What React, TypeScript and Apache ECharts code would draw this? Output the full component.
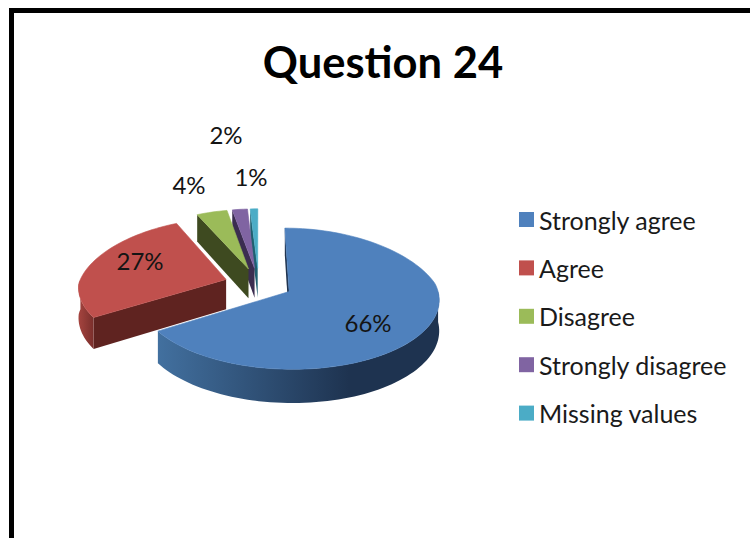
import React, { useEffect, useRef } from "react";
import * as echarts from "echarts";

const titleText = "Question 24";
const categories = ["Strongly agree", "Agree", "Disagree", "Strongly disagree", "Missing values"];
const values = [66, 27, 4, 2, 1];
const percentLabels = ["66%", "27%", "4%", "2%", "1%"];

const topColors = ["#4F81BD", "#C0504D", "#9BBB59", "#8064A2", "#4BACC6"];
const faceColors = ["#20344f", "#5f2320", "#3e4a20", "#3b2d50", "#1f5f70"];
const arcStops: string[][] = [
  ["#42709f", "#1e3350"],
  ["#a5443f", "#7a2f2c"],
  ["#3e4a20", "#3e4a20"],
  ["#3b2d50", "#3b2d50"],
  ["#1f5f70", "#1f5f70"],
];
const labelPoints = [
  [368, 322],
  [140, 260],
  [189, 184],
  [226, 134],
  [251, 176],
];

const FONT = "Lato";
const CX = 258.7;
const CY = 283.8;
const RX = 147.3;
const RY = 68.3;
const DEPTH = 30;
const EXPLODE = 0.233;
const PERSP = 0.1;
const PERSP_BACK_X = 0.17;
const RAD = Math.PI / 180;

const total = values.reduce((a, b) => a + b, 0);

function project(px: number, py: number, drop: number) {
  const w = 1 / (1 - PERSP * py);
  const wx = py < 0 ? 1 / (1 - PERSP_BACK_X * py) : w;
  return [CX + RX * px * wx, CY + RY * py * w + drop * w];
}

function sliceGeometry(index: number, value: number) {
  let before = 0;
  for (let i = 0; i < index; i++) before += values[i];
  const start = (before / total) * 360;
  const end = start + (value / total) * 360;
  const mid = ((start + end) / 2) * RAD;
  const ox = EXPLODE * Math.sin(mid);
  const oy = -EXPLODE * Math.cos(mid);
  const rim = (deg: number, drop: number) =>
    project(ox + Math.sin(deg * RAD), oy - Math.cos(deg * RAD), drop);
  const apex = (drop: number) => project(ox, oy, drop);
  return { start, end, rim, apex };
}

function arcPoints(rim: (d: number, z: number) => number[], from: number, to: number, drop: number) {
  const steps = Math.max(2, Math.ceil(Math.abs(to - from) / 2));
  const out: number[][] = [];
  for (let i = 0; i <= steps; i++) out.push(rim(from + ((to - from) * i) / steps, drop));
  return out;
}

function makeRenderItem(index: number) {
  return (_params: any, api: any) => {
    const { start, end, rim, apex } = sliceGeometry(index, api.value(0));
    const children: any[] = [];

    // flat cut face along the slice's start edge
    if (start < 360 && (start === 0 || start > 180)) {
      children.push({
        type: "polygon",
        shape: { points: [apex(0), rim(start, 0), rim(start, DEPTH), apex(DEPTH)] },
        style: { fill: faceColors[index] },
      });
    }
    // curved rim on the front half of the pie
    const a = Math.max(start, 90);
    const b = Math.min(end, 270);
    if (b > a) {
      const top = arcPoints(rim, a, b, 0);
      const bottom = arcPoints(rim, b, a, DEPTH);
      children.push({
        type: "polygon",
        shape: { points: [...top, ...bottom] },
        style: {
          fill: new echarts.graphic.LinearGradient(1, 0, 0, 0, [
            { offset: 0, color: arcStops[index][1] },
            { offset: index === 0 ? 0.32 : 0, color: arcStops[index][1] },
            { offset: 1, color: arcStops[index][0] },
          ]),
        },
      });
    }
    // top surface
    children.push({
      type: "polygon",
      shape: { points: [apex(0), ...arcPoints(rim, start, end, 0)] },
      style: { fill: topColors[index], stroke: topColors[index], lineWidth: 0.6 },
    });
    return { type: "group", children };
  };
}

export default function App() {
  const ref = useRef<HTMLDivElement>(null);
  useEffect(() => {
    if (!ref.current) return;
    const chart = echarts.init(ref.current, undefined, { renderer: "svg" });
    const order = categories.map((_, i) => categories.length - 1 - i);
    chart.setOption({
      animation: false,
      backgroundColor: "#ffffff",
      title: {
        text: titleText,
        left: 378,
        top: 34,
        textAlign: "center",
        textStyle: { fontFamily: FONT, fontSize: 43.5, fontWeight: "bold", color: "#000000" },
      },
      legend: {
        data: categories,
        orient: "vertical",
        left: 514,
        top: 202,
        itemWidth: 15,
        itemHeight: 15,
        itemGap: 23.4,
        icon: "rect",
        selectedMode: false,
        textStyle: { fontFamily: FONT, fontSize: 25, color: "#1a1a1a" },
      },
      graphic: {
        elements: [
          { type: "rect", left: 9, top: 8, shape: { width: 760, height: 5 }, style: { fill: "#000" } },
          { type: "rect", left: 9, top: 8, shape: { width: 5, height: 560 }, style: { fill: "#000" } },
          ...percentLabels.map((text, i) => ({
            type: "text",
            x: labelPoints[i][0],
            y: labelPoints[i][1],
            z: 10,
            style: {
              text,
              fill: "#141414",
              font: `24px ${FONT}`,
              align: "center",
              verticalAlign: "middle",
            },
          })),
        ],
      },
      series: order.map((i) => ({
        type: "custom",
        name: categories[i],
        coordinateSystem: "none",
        silent: true,
        itemStyle: { color: topColors[i] },
        renderItem: makeRenderItem(i),
        data: [[values[i]]],
      })),
    });
    return () => chart.dispose();
  }, []);
  return <div ref={ref} style={{ position: "fixed", left: 0, top: 0, width: 750, height: 538 }} />;
}
